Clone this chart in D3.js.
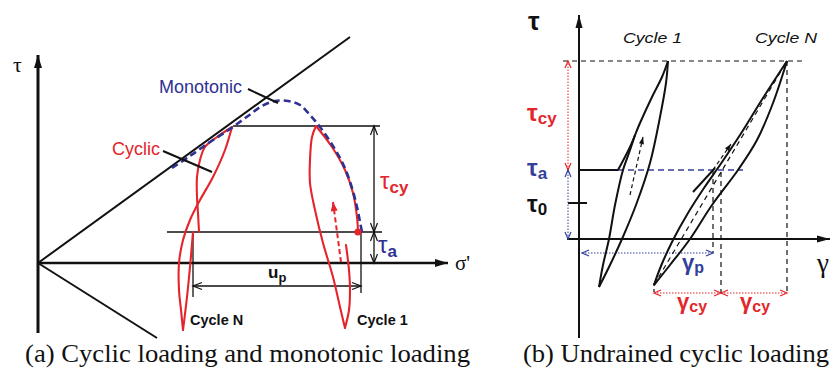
<!DOCTYPE html>
<html>
<head>
<meta charset="utf-8">
<script src="https://cdn.jsdelivr.net/npm/d3@7"></script>
<style>
  html, body { margin: 0; padding: 0; background: #fff; }
  svg { display: block; }
</style>
</head>
<body>
<svg id="fig" width="833" height="372"></svg>
<script>
// ---------- (a) cyclic and monotonic loading, coordinates in (σ', τ) units ----------
const failureUpper = [[0, 0], [31.2, 22.6]];
const failureLower = [[0, 0], [11.9, -7.5]];
const tauMaxA = 13.7;          // peak shear stress of the cycles
const tauAmbA = 3.1;           // ambient (static) shear stress τa
const monotonic = [[13.4, 9.5], [15.2, 10.7], [17.2, 12.1], [19.2, 13.4], [21.0, 14.7], [22.4, 15.7],
  [23.7, 16.2], [25.0, 16.2], [26.2, 15.8], [27.2, 14.8], [28.2, 13.6], [29.5, 11.7], [30.6, 9.7],
  [31.4, 7.5], [31.9, 5.6], [32.2, 4.1], [32.4, 3.1]];
const cycleNUnload = [[19.4, 13.6], [18.7, 11.3], [17.5, 8.6], [16.2, 6.3], [15.2, 4.3], [14.5, 2.3],
  [14.1, 0], [14.1, -2.7], [14.3, -4.7], [14.5, -6.7]];
const cycleNEnvelope = [[19.4, 13.6], [17.9, 12.6], [16.7, 11.6], [16.2, 10.3], [15.9, 8.6], [15.9, 6.6],
  [16.0, 5.0], [16.1, 3.1]];
const cycleNReload = [[14.5, -6.7], [14.9, -3.4], [15.2, -0.4], [15.5, 3.1]];
const cycle1Load = [[27.8, 13.7], [29.4, 11.6], [30.7, 9.3], [31.5, 7.0], [31.9, 4.6], [32.0, 3.1]];
const cycle1Unload = [[27.8, 13.7], [27.4, 12.6], [27.2, 10.3], [27.2, 8.0], [27.7, 5.3], [28.5, 2.0],
  [29.5, -1.4], [30.2, -4.4], [30.7, -6.5]];
const cycle1Reload = [[30.7, -6.5], [31.1, -4.7], [31.2, -2.7], [31.1, -0.7], [30.8, 1.8]];
const cycle1Arrow = [[30.3, 0.1], [29.5, 6.1]];
const startN = 15.5, start1 = 32.3;   // σ' where cycle N and cycle 1 start (u_p between them)

// ---------- (b) undrained cyclic loading, coordinates in (γ, τ) units ----------
const tauMaxB = 17.8, tauAmbB = 6.9, tau0B = 3.6;
const gammaP = 13.4, gammaMid = 14.2, gammaMin = 7.5, gammaMax = 20.8;
const c1Load = [[3.9, 6.9], [5.1, 9.2], [6.1, 11.6], [7.3, 14.2], [8.3, 16.2], [8.9, 17.8]];
const c1Unload = [[8.9, 17.8], [8.7, 15.6], [8.1, 12.2], [7.1, 7.6], [5.7, 3.4], [4.3, 0], [3.1, -2.6], [2.0, -4.8]];
const c1Reload = [[2.0, -4.8], [2.4, -2.6], [3.0, 0], [3.6, 3.4], [4.4, 6.9], [5.0, 8.6], [5.6, 10.4]];
const c1Arrow = [[5.1, 4.4], [6.4, 10.2]];
const cNStart = [[11.4, 4.7], [13.6, 7.1]];
const cNUpper = [[7.5, -4.6], [8.2, -2.7], [9.4, -0.1], [10.9, 2.6], [12.5, 5.1], [14.1, 7.4], [16.1, 10.4],
  [18.4, 14.1], [20.8, 17.8]];
const cNLower = [[7.5, -4.6], [9.1, -2.6], [11.1, 0], [13.3, 3.4], [15.9, 6.9], [17.8, 9.9], [19.4, 13.6], [20.8, 17.8]];
const cNMean = [[7.5, -4.6], [20.8, 17.8]];
const cNArrow = [[13.4, 6.9], [15.2, 9.5]];

const RED = "#e4252b", NAVY = "#2e3192", BLUEB = "#34409a";
const SANS = "'Liberation Sans', Arial, sans-serif", SERIF = "'Liberation Serif', 'Times New Roman', serif";

const svg = d3.select("#fig");
const defs = svg.append("defs");

function marker(id, color, kind, len, wid) {
  const m = defs.append("marker").attr("id", id)
    .attr("markerUnits", "userSpaceOnUse")
    .attr("orient", "auto-start-reverse")
    .attr("viewBox", `0 0 ${len} ${wid}`)
    .attr("refX", len).attr("refY", wid / 2)
    .attr("markerWidth", len).attr("markerHeight", wid)
    .attr("overflow", "visible");
  if (kind === "fill") {
    m.append("path").attr("d", `M0,0L${len},${wid / 2}L0,${wid}Z`).attr("fill", color);
  } else {
    m.append("path").attr("d", `M0,0L${len},${wid / 2}L0,${wid}`)
      .attr("fill", "none").attr("stroke", color).attr("stroke-width", 1.2);
  }
}
marker("axisA", "#111", "fill", 13, 8);
marker("axisB", "#111", "fill", 13, 7);
marker("openK", "#111", "open", 9, 7);
marker("openR", RED, "open", 7, 6);
marker("openB", BLUEB, "open", 7, 6);
marker("fillR", RED, "fill", 9, 7);
marker("fillK", "#111", "fill", 7, 5);

// ===================== panel (a) =====================
const xa = d3.scaleLinear().domain([0, 41]).range([38, 448]);
const ya = d3.scaleLinear().domain([0, 20.8]).range([263, 55]);
const curveA = d3.line().x(d => xa(d[0])).y(d => ya(d[1])).curve(d3.curveCatmullRom.alpha(0.5));
const straightA = d3.line().x(d => xa(d[0])).y(d => ya(d[1]));
const ga = svg.append("g");

function pathA(pts, opt) {
  const p = ga.append("path").attr("d", (opt.curve ? curveA : straightA)(pts))
    .attr("fill", "none").attr("stroke", opt.color || "#111")
    .attr("stroke-width", opt.w || 1.3).attr("stroke-linejoin", "round").attr("stroke-linecap", opt.cap || "butt");
  if (opt.dash) p.attr("stroke-dasharray", opt.dash);
  if (opt.end) p.attr("marker-end", `url(#${opt.end})`);
  if (opt.start) p.attr("marker-start", `url(#${opt.start})`);
  return p;
}

// axes
pathA([[0, -7.0], [0, 20.8]], { w: 3, end: "axisA" });
pathA([[0, 0], [41, 0]], { w: 2.4, end: "axisA" });
// failure envelopes
pathA(failureUpper, { w: 2 });
pathA(failureLower, { w: 2 });
// stress levels
pathA([[19.5, tauMaxA], [34.2, tauMaxA]], { w: 1.3 });
pathA([[12.9, tauAmbA], [34.4, tauAmbA]], { w: 1.3 });
// τcy and τa dimension arrows
pathA([[33.6, tauAmbA], [33.6, tauMaxA]], { w: 1.3, start: "openK", end: "openK" });
pathA([[33.6, 0], [33.6, tauAmbA]], { w: 1.3, start: "openK", end: "openK" });
// start markers of the two cycles and u_p
pathA([[startN, tauAmbA], [startN, -3.4]], { w: 1.3 });
pathA([[start1, tauAmbA], [start1, -3.0]], { w: 1.3 });
pathA([[startN, -2.3], [start1, -2.3]], { w: 1.3, start: "openK", end: "openK" });

// cyclic loops
[cycleNUnload, cycleNEnvelope, cycleNReload, cycle1Load, cycle1Unload, cycle1Reload]
  .forEach(c => pathA(c, { curve: true, color: RED, w: 2.1, cap: "round" }));
// monotonic path
pathA(monotonic, { curve: true, color: NAVY, w: 2.6, dash: "7,4" });
ga.append("circle").attr("cx", xa(cycle1Load[cycle1Load.length - 1][0])).attr("cy", ya(tauAmbA))
  .attr("r", 3.6).attr("fill", RED);
pathA(cycle1Arrow, { color: RED, w: 2, dash: "5,3", end: "fillR" });

// leader lines
pathA([[21.0, 17.4], [24.0, 16.0]], { w: 2 });
pathA([[12.5, 11.2], [17.4, 9.1]], { w: 2 });

// labels
function textA(u, v, str, o) {
  return ga.append("text").attr("x", xa(u)).attr("y", ya(v)).text(str)
    .attr("font-family", o.family || SANS)
    .attr("font-size", o.size).attr("font-weight", o.weight || "normal")
    .attr("fill", o.color || "#111");
}
textA(-2.5, 19.1, "τ", { size: 22, family: SERIF });
textA(41.7, -0.7, "σ'", { size: 21, family: SERIF });
textA(12.1, 17.0, "Monotonic", { size: 18, color: NAVY });
textA(7.4, 10.8, "Cyclic", { size: 18, color: RED });
textA(15.2, -6.2, "Cycle N", { size: 14.5, weight: "bold" });
textA(31.9, -6.2, "Cycle 1", { size: 14.5, weight: "bold" });

function subLabel(g, x, y, main, sub, o) {
  const t = g.append("text").attr("x", x).attr("y", y)
    .attr("font-family", SANS)
    .attr("fill", o.color).attr("font-weight", o.weight || "normal");
  t.append("tspan").attr("font-size", o.size).text(main);
  t.append("tspan").attr("font-size", o.subSize).attr("font-weight", "bold").attr("dy", o.dy).text(sub);
  return t;
}
subLabel(ga, xa(34.2), ya(7.4), "τ", "cy", { color: RED, size: 24, subSize: 17, dy: 4 });
subLabel(ga, xa(34.0), ya(1.0), "τ", "a", { color: NAVY, size: 24, subSize: 17, dy: 4 });
subLabel(ga, xa(23.0), ya(-1.5), "u", "p", { color: "#111", size: 17, subSize: 13, dy: 4, weight: "bold" });

// ===================== panel (b) =====================
const xb = d3.scaleLinear().domain([0, 25.1]).range([579, 830]);
const yb = d3.scaleLinear().domain([0, 22.4]).range([239, 15]);
const curveB = d3.line().x(d => xb(d[0])).y(d => yb(d[1])).curve(d3.curveCatmullRom.alpha(0.5));
const straightB = d3.line().x(d => xb(d[0])).y(d => yb(d[1]));
const gb = svg.append("g");

function pathB(pts, opt) {
  const p = gb.append("path").attr("d", (opt.curve ? curveB : straightB)(pts))
    .attr("fill", "none").attr("stroke", opt.color || "#111")
    .attr("stroke-width", opt.w || 1.2).attr("stroke-linejoin", "round").attr("stroke-linecap", opt.cap || "butt");
  if (opt.dash) p.attr("stroke-dasharray", opt.dash);
  if (opt.end) p.attr("marker-end", `url(#${opt.end})`);
  if (opt.start) p.attr("marker-start", `url(#${opt.start})`);
  return p;
}

// axes
pathB([[0, -9.9], [0, 22.4]], { w: 2, end: "axisB" });
pathB([[-1.2, 0], [25.1, 0]], { w: 2, end: "axisB" });
// reference levels
pathB([[-1.6, tauMaxB], [22.3, tauMaxB]], { w: 1.2, dash: "5,4" });
pathB([[0, tauAmbB], [3.9, tauAmbB]], { w: 2 });
pathB([[3.9, tauAmbB], [16.4, tauAmbB]], { w: 1.4, dash: "6,4", color: BLUEB });
pathB([[-1.1, tau0B], [0.8, tau0B]], { w: 2 });
// vertical strain markers
pathB([[gammaP, tauAmbB], [gammaP, -1.4]], { dash: "5,4" });
pathB([[gammaMid, 6.7], [gammaMid, -5.6]], { dash: "5,4" });
pathB([[gammaMax, tauMaxB], [gammaMax, -5.6]], { dash: "5,4" });
pathB([[gammaMin, -4.4], [gammaMin, -5.6]], { dash: "3,3" });
// dotted dimension arrows
pathB([[-1.1, tauAmbB], [-1.1, tauMaxB]], { w: 1, dash: "1.5,1.5", color: RED, start: "openR", end: "openR" });
pathB([[-1.1, 0], [-1.1, tauAmbB]], { w: 1, dash: "1.5,1.5", color: BLUEB, start: "openB", end: "openB" });
pathB([[0.3, -1.4], [gammaP, -1.4]], { w: 1, dash: "1.5,1.5", color: BLUEB, start: "openB", end: "openB" });
pathB([[gammaMin, -5.4], [gammaMid, -5.4]], { w: 1, dash: "1.5,1.5", color: RED, start: "openR", end: "openR" });
pathB([[gammaMid, -5.4], [gammaMax, -5.4]], { w: 1, dash: "1.5,1.5", color: RED, start: "openR", end: "openR" });

// stress-strain loops
[c1Load, c1Unload, c1Reload, cNUpper, cNLower].forEach(c => pathB(c, { curve: true, w: 2 }));
pathB(cNStart, { w: 2 });
pathB(cNMean, { dash: "5,4" });
pathB(c1Arrow, { dash: "4,3", end: "fillK" });
pathB(cNArrow, { dash: "4,3", end: "fillK" });

// labels
function textB(u, v, str, o) {
  const t = gb.append("text").attr("x", xb(u)).attr("y", yb(v)).text(str)
    .attr("font-family", o.family || SANS)
    .attr("font-size", o.size).attr("font-weight", o.weight || "normal")
    .attr("font-style", o.style || "normal").attr("fill", o.color || "#111");
  if (o.len) t.attr("textLength", o.len).attr("lengthAdjust", "spacingAndGlyphs");
  return t;
}
textB(-5.1, 20.9, "τ", { size: 26, weight: "bold" });
textB(4.4, 19.6, "Cycle 1", { size: 15.5, style: "italic", len: 59 });
textB(17.6, 19.6, "Cycle N", { size: 15.5, style: "italic", len: 62 });
textB(23.8, -3.3, "γ", { size: 27, family: SERIF });
subLabel(gb, xb(-5.2), yb(11.8), "τ", "cy", { color: RED, size: 24, subSize: 17, dy: 3, weight: "bold" });
subLabel(gb, xb(-5.2), yb(6.3), "τ", "a", { color: BLUEB, size: 24, subSize: 17, dy: 3, weight: "bold" });
subLabel(gb, xb(-5.2), yb(2.7), "τ", "0", { color: "#111", size: 24, subSize: 17, dy: 3, weight: "bold" });
subLabel(gb, xb(10.3), yb(-3.1), "γ", "p", { color: BLUEB, size: 22, subSize: 16, dy: 3, weight: "bold" });
subLabel(gb, xb(9.8), yb(-7.0), "γ", "cy", { color: RED, size: 22, subSize: 16, dy: 3, weight: "bold" });
subLabel(gb, xb(16.1), yb(-7.0), "γ", "cy", { color: RED, size: 22, subSize: 16, dy: 3, weight: "bold" });

// ===================== captions =====================
const captions = ["(a) Cyclic loading and monotonic loading", "(b) Undrained cyclic loading"];
const captionX = [25, 523], captionW = [445, 306];
svg.selectAll("text.caption").data(captions).join("text").attr("class", "caption")
  .attr("x", (d, i) => captionX[i]).attr("y", 362)
  .attr("textLength", (d, i) => captionW[i]).attr("lengthAdjust", "spacingAndGlyphs")
  .attr("font-family", SERIF).attr("font-size", 25)
  .attr("fill", "#111").text(d => d);
</script>
</body>
</html>
